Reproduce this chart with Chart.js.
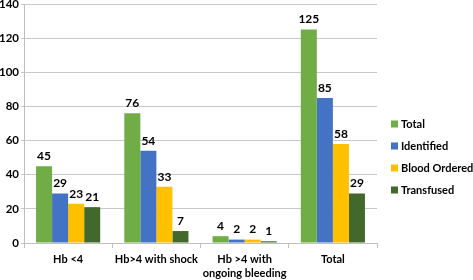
<!DOCTYPE html>
<html>
<head>
<meta charset="utf-8">
<script src="https://cdn.jsdelivr.net/npm/chart.js@4/dist/chart.umd.min.js"></script>
<style>
html,body{margin:0;padding:0;background:#fff;}
#wrap{width:473px;height:280px;position:relative;}
</style>
</head>
<body>
<div id="wrap"><canvas id="c" width="473" height="280"></canvas></div>
<script>
const categories = ["Hb <4", "Hb>4 with shock", ["Hb >4 with", "ongoing bleeding"], "Total"];
const seriesNames = ["Total", "Identified", "Blood Ordered", "Transfused"];
const totalValues = [45, 76, 4, 125];
const identifiedValues = [29, 54, 2, 85];
const bloodOrderedValues = [23, 33, 2, 58];
const transfusedValues = [21, 7, 1, 29];
const yTicks = [0, 20, 40, 60, 80, 100, 120, 140];

const colors = ["#70ad47", "#4472c4", "#ffc000", "#43682b"];
const FONT = "Lato, 'Open Sans', sans-serif";

const valueLabels = {
  id: 'valueLabels',
  afterDatasetsDraw(chart) {
    const ctx = chart.ctx;
    ctx.save();
    ctx.font = "bold 12px " + FONT;
    ctx.fillStyle = "#000";
    ctx.textAlign = "center";
    ctx.textBaseline = "bottom";
    chart.data.datasets.forEach((ds, i) => {
      const meta = chart.getDatasetMeta(i);
      meta.data.forEach((bar, j) => {
        ctx.fillText(String(ds.data[j]), bar.x, bar.y - 4);
      });
    });
    ctx.restore();
  }
};

const sideLegend = {
  id: 'sideLegend',
  afterDraw(chart) {
    const ctx = chart.ctx;
    ctx.save();
    ctx.font = "bold 11px " + FONT;
    ctx.textBaseline = "middle";
    ctx.textAlign = "left";
    const x0 = 391, y0 = 124, step = 22;
    chart.data.datasets.forEach((ds, i) => {
      const y = y0 + i * step;
      ctx.fillStyle = ds.backgroundColor;
      ctx.fillRect(x0, y - 3.5, 7, 7);
      ctx.fillStyle = "#000";
      ctx.fillText(ds.label, x0 + 10, y);
    });
    ctx.restore();
  }
};

const seriesValues = [totalValues, identifiedValues, bloodOrderedValues, transfusedValues];

new Chart(document.getElementById('c'), {
  type: 'bar',
  data: {
    labels: categories,
    datasets: seriesNames.map((name, i) => ({
      label: name,
      data: seriesValues[i],
      backgroundColor: colors[i],
      borderWidth: 0,
      categoryPercentage: 0.727,
      barPercentage: 1.0
    }))
  },
  options: {
    responsive: false,
    animation: false,
    devicePixelRatio: 1,
    layout: { padding: { top: 4, right: 96, left: 0, bottom: 0 } },
    plugins: { legend: { display: false }, tooltip: { enabled: false } },
    scales: {
      x: {
        grid: { offset: true, drawOnChartArea: false, drawTicks: true, tickLength: 5, color: "#bfbfbf" },
        border: { color: "#bfbfbf" },
        ticks: { color: "#000", font: { family: FONT, size: 11, weight: "bold", lineHeight: 1.25 }, padding: 5, maxRotation: 0, autoSkip: false },
        afterFit(s) { s.height = 37; }
      },
      y: {
        min: 0, max: 140,
        afterBuildTicks(s) { s.ticks = yTicks.map(v => ({ value: v })); },
        grid: { color: "#c8c8c8", tickLength: 3 },
        border: { color: "#bfbfbf" },
        ticks: { color: "#000", font: { family: FONT, size: 11.5, weight: "bold" }, padding: 2 },
        afterFit(s) { s.width = 24; s.paddingTop = 0; s.paddingBottom = 0; }
      }
    }
  },
  plugins: [valueLabels, sideLegend]
});
</script>
</body>
</html>
